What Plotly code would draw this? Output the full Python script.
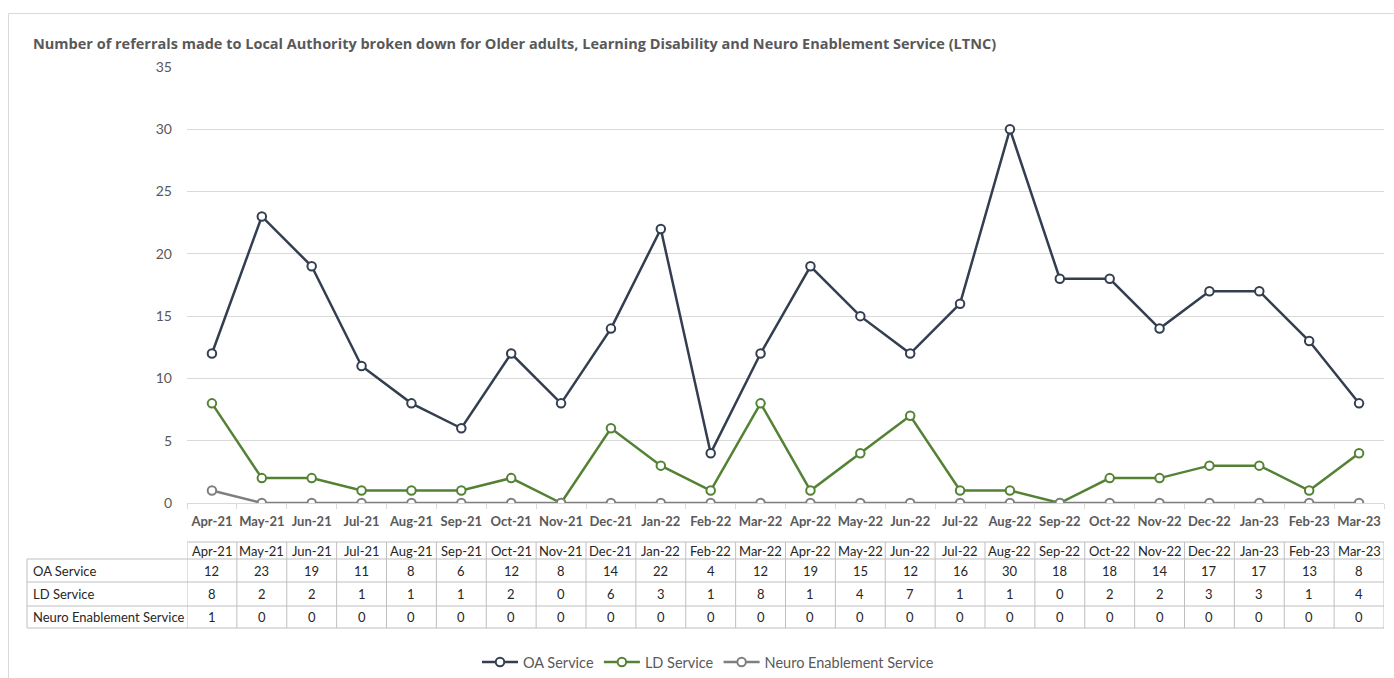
import plotly.graph_objects as go

# ---- data ----
months = ["Apr-21", "May-21", "Jun-21", "Jul-21", "Aug-21", "Sep-21", "Oct-21", "Nov-21",
          "Dec-21", "Jan-22", "Feb-22", "Mar-22", "Apr-22", "May-22", "Jun-22", "Jul-22",
          "Aug-22", "Sep-22", "Oct-22", "Nov-22", "Dec-22", "Jan-23", "Feb-23", "Mar-23"]
oa_service = [12, 23, 19, 11, 8, 6, 12, 8, 14, 22, 4, 12, 19, 15, 12, 16, 30, 18, 18, 14, 17, 17, 13, 8]
ld_service = [8, 2, 2, 1, 1, 1, 2, 0, 6, 3, 1, 8, 1, 4, 7, 1, 1, 0, 2, 2, 3, 3, 1, 4]
neuro_service = [1, 0, 0, 0, 0, 0, 0, 0, 0, 0, 0, 0, 0, 0, 0, 0, 0, 0, 0, 0, 0, 0, 0, 0]
y_ticks = [0, 5, 10, 15, 20, 25, 30, 35]

series = [
    ("OA Service", oa_service, "#333F50"),
    ("LD Service", ld_service, "#548235"),
    ("Neuro Enablement Service", neuro_service, "#7F7F7F"),
]

# ---- layout geometry (pixels) ----
W, H = 1394, 678
PL, PR, PT, PB = 187, 1384, 67, 503
FONT = "Lato"
TXT = "#595959"
GRID = "#D9D9D9"
TABLE_LINE = "#BFBFBF"


def px_x(px):
    return (px - PL) / (PR - PL)


def px_y(py):
    return (PB - py) / (PB - PT)


fig = go.Figure()
for name, vals, color in series:
    fig.add_trace(go.Scatter(
        x=months, y=vals, name=name, mode="lines+markers",
        line=dict(color=color, width=2.5),
        marker=dict(symbol="circle", size=8.5, color="white",
                    line=dict(color=color, width=2)),
    ))

shapes = []
annotations = []

# outer chart frame
shapes.append(dict(type="rect", xref="paper", yref="paper",
                   x0=px_x(8.5), x1=px_x(W + 20), y0=px_y(13.5), y1=px_y(H + 20),
                   line=dict(color="#D9D9D9", width=1), layer="below"))

# data table beneath the axis
hdr_top, r1, r2, r3, tbl_bot = 542, 559, 582, 606, 628
lbl_left = 27
n = len(months)

# horizontal rules
shapes.append(dict(type="line", xref="x", yref="paper", x0=-0.5, x1=n - 0.5,
                   y0=px_y(hdr_top), y1=px_y(hdr_top), line=dict(color=TABLE_LINE, width=1)))
for yy in (r1, r2, r3, tbl_bot):
    shapes.append(dict(type="line", xref="paper", yref="paper", x0=px_x(lbl_left), x1=1,
                       y0=px_y(yy), y1=px_y(yy), line=dict(color=TABLE_LINE, width=1)))
# vertical rules
for i in range(n + 1):
    shapes.append(dict(type="line", xref="x", yref="paper", x0=i - 0.5, x1=i - 0.5,
                       y0=px_y(hdr_top), y1=px_y(tbl_bot), line=dict(color=TABLE_LINE, width=1)))
shapes.append(dict(type="line", xref="paper", yref="paper", x0=px_x(lbl_left), x1=px_x(lbl_left),
                   y0=px_y(r1), y1=px_y(tbl_bot), line=dict(color=TABLE_LINE, width=1)))

cell_font = dict(family=FONT, size=13, color="#262626")
row_centers = [(r1 + r2) / 2, (r2 + r3) / 2, (r3 + tbl_bot) / 2]
for i, m in enumerate(months):
    annotations.append(dict(x=m, y=px_y((hdr_top + r1) / 2), xref="x", yref="paper",
                            text=m, showarrow=False, font=cell_font,
                            xanchor="center", yanchor="middle"))
for (name, vals, _), yc in zip(series, row_centers):
    annotations.append(dict(x=px_x(31), y=px_y(yc), xref="paper", yref="paper",
                            text=name, showarrow=False, font=cell_font,
                            xanchor="left", yanchor="middle"))
    for m, v in zip(months, vals):
        annotations.append(dict(x=m, y=px_y(yc), xref="x", yref="paper",
                                text=str(v), showarrow=False, font=cell_font,
                                xanchor="center", yanchor="middle"))

fig.update_layout(
    width=W, height=H,
    margin=dict(l=PL, r=W - PR, t=PT, b=H - PB, autoexpand=False),
    paper_bgcolor="white", plot_bgcolor="white",
    font=dict(family=FONT, color=TXT),
    title=dict(
        text="<b>Number of referrals made to Local Authority broken down for Older adults, "
             "Learning Disability and Neuro Enablement Service (LTNC)</b>",
        x=33 / W, xref="container", xanchor="left",
        y=1 - 44 / H, yref="container", yanchor="middle",
        font=dict(family="Open Sans", size=14.5, color=TXT),
    ),
    xaxis=dict(
        type="category", showgrid=False, showline=True, linecolor=GRID, linewidth=1,
        ticks="outside", tickson="boundaries", ticklen=5, tickcolor=GRID,
        tickangle=0, automargin=False, ticklabelstandoff=6,
        tickfont=dict(family=FONT, size=13, color=TXT, weight="bold"),
        range=[-0.5, n - 0.5], fixedrange=True,
    ),
    yaxis=dict(
        range=[0, 35], tickvals=y_ticks, showgrid=True, gridcolor=GRID, gridwidth=1,
        zeroline=False, showline=False, ticks="", ticklabelstandoff=14, automargin=False,
        tickfont=dict(family=FONT, size=14, color=TXT),
    ),
    legend=dict(
        orientation="h", x=px_x(708), xanchor="center", y=px_y(662), yanchor="middle",
        font=dict(family=FONT, size=14.5, color=TXT), itemwidth=36,
        bgcolor="rgba(0,0,0,0)", entrywidth=0,
    ),
    shapes=shapes,
    annotations=annotations,
)

fig.write_html("out.html")
